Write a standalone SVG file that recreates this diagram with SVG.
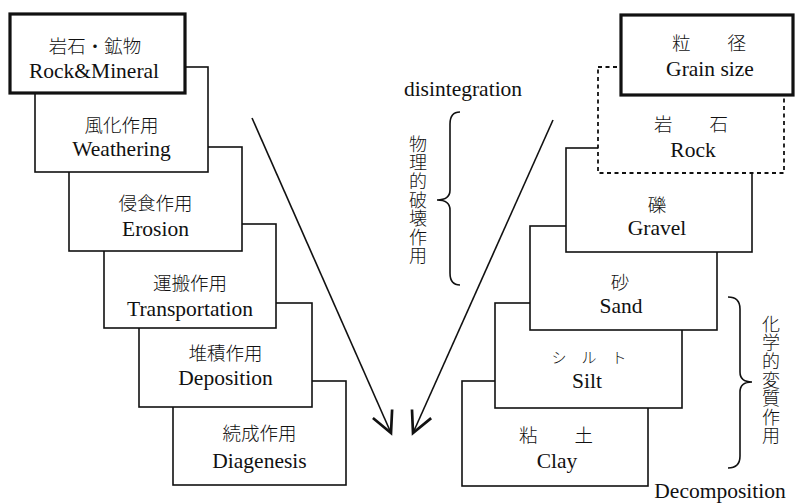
<svg xmlns="http://www.w3.org/2000/svg" width="795" height="503" viewBox="0 0 795 503">
<style>
.box{fill:#fff;stroke:#111;stroke-width:1.6}
.thick{fill:#fff;stroke:#111;stroke-width:3.2}
.dash{fill:#fff;stroke:#111;stroke-width:1.8;stroke-dasharray:4 3.5}
.en{font-family:"Liberation Serif","DejaVu Serif",serif;font-size:21.5px;fill:#111;text-anchor:middle}
.jp{font-family:"Noto Sans CJK JP","Noto Sans",sans-serif;font-size:18.5px;font-weight:300;fill:#111;text-anchor:middle}
.jps{font-family:"Noto Sans CJK JP","Noto Sans",sans-serif;font-size:15px;font-weight:300;fill:#111;text-anchor:middle}
.vt{font-family:"Noto Sans CJK JP","Noto Sans",sans-serif;font-size:18px;font-weight:300;fill:#111;writing-mode:vertical-rl;letter-spacing:0.6px}
.line{fill:none;stroke:#111;stroke-width:1.6}
</style>
<defs>
<marker id="arr" markerUnits="userSpaceOnUse" markerWidth="30" markerHeight="30" refX="0" refY="0" viewBox="-16 -10 20 20" orient="auto">
<path d="M-14,-7 L0,0 L-14,7" fill="none" stroke="#111" stroke-width="1.8"/>
</marker>
</defs>

<g id="left-stack">
<g id="diagenesis"><rect class="box" x="173" y="381" width="173" height="104"/><text class="jp" x="259.5" y="440">続成作用</text><text class="en" x="259.5" y="468">Diagenesis</text></g>
<g id="deposition"><rect class="box" x="139" y="303" width="173" height="104"/><text class="jp" x="225.5" y="360">堆積作用</text><text class="en" x="225.5" y="385">Deposition</text></g>
<g id="transportation"><rect class="box" x="104" y="224" width="172" height="104"/><text class="jp" x="190" y="290">運搬作用</text><text class="en" x="190" y="316">Transportation</text></g>
<g id="erosion"><rect class="box" x="69" y="147" width="173" height="104"/><text class="jp" x="155.5" y="210">侵食作用</text><text class="en" x="155.5" y="236">Erosion</text></g>
<g id="weathering"><rect class="box" x="35" y="67" width="173" height="105"/><text class="jp" x="121.5" y="132">風化作用</text><text class="en" x="121.5" y="156">Weathering</text></g>
<g id="rock-mineral"><rect class="thick" x="10" y="14" width="175" height="79"/><text class="jp" x="95" y="53">岩石・鉱物</text><text class="en" x="94" y="78">Rock&amp;Mineral</text></g>
</g>

<g id="right-stack">
<g id="clay"><rect class="box" x="462" y="381" width="186" height="105"/><text class="jp" x="556" y="442">粘　　土</text><text class="en" x="557" y="468">Clay</text></g>
<g id="silt"><rect class="box" x="495" y="303" width="187" height="105"/><text class="jps" x="589" y="363">シ　ル　ト</text><text class="en" x="587" y="388">Silt</text></g>
<g id="sand"><rect class="box" x="530" y="226" width="187" height="104"/><text class="jp" x="620" y="289">砂</text><text class="en" x="621" y="313">Sand</text></g>
<g id="gravel"><rect class="box" x="566" y="148" width="186" height="104"/><text class="jp" x="657" y="212">礫</text><text class="en" x="657" y="235">Gravel</text></g>
<g id="rock"><rect class="dash" x="598" y="67" width="186" height="106"/><text class="jp" x="691" y="131">岩　　石</text><text class="en" x="693" y="157">Rock</text></g>
<g id="grain-size"><rect class="thick" x="621" y="15" width="172" height="80"/><text class="jp" x="709" y="50">粒　　径</text><text class="en" x="710" y="76">Grain size</text></g>
</g>

<g id="connectors">
<line class="line" x1="252" y1="118" x2="391" y2="433" marker-end="url(#arr)"/>
<line class="line" x1="553" y1="120" x2="413" y2="433" marker-end="url(#arr)"/>
<path class="line" d="M460,112 Q450,112 450,124 L450,190 Q450,200 437,200 Q450,200 450,210 L450,273 Q450,285 460,285"/>
<path class="line" d="M728,297 Q740,297 740,309 L740,372 Q740,382 752,382 Q740,382 740,392 L740,456 Q740,468 728,468"/>
</g>

<g id="labels">
<text class="en" x="463" y="96">disintegration</text>
<text class="en" x="720" y="498">Decomposition</text>
<text class="vt" x="418" y="135">物理的破壊作用</text>
<text class="vt" x="771" y="315">化学的変質作用</text>
</g>
</svg>
